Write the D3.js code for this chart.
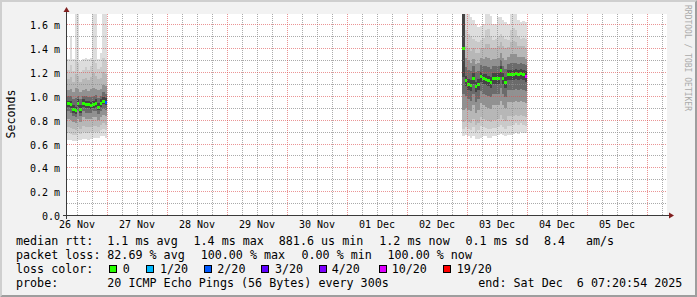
<!DOCTYPE html>
<html><head><meta charset="utf-8">
<script src="https://cdn.jsdelivr.net/npm/d3@7"></script>
<style>html,body{margin:0;padding:0;background:#f2f2f2;} svg{display:block;} text{white-space:pre;}</style>
</head><body>
<svg id="c" width="697" height="297"></svg>
<script>
// ---- time frame ----
const domainStart = "2025-11-26T08:00:00Z";
const domainEnd   = "2025-12-06T08:00:00Z";
const leftStart   = "2025-11-26T08:00:00Z";   // hourly steps
const rightStart  = "2025-12-02T22:00:00Z";

const dayLabels = ["26 Nov","27 Nov","28 Nov","29 Nov","30 Nov","01 Dec","02 Dec","03 Dec","04 Dec","05 Dec"];
const yTickValues = [0,0.2,0.4,0.6,0.8,1.0,1.2,1.4,1.6];
const yTickLabels = ["0.0","0.2 m","0.4 m","0.6 m","0.8 m","1.0 m","1.2 m","1.4 m","1.6 m"];

// ---- left block (ms), sorted-ping ranks ----
const leftMax = [1.31,1.50,1.31,1.80,1.80,1.29,1.31,1.32,1.31,1.32,1.80,1.80,1.31,1.36,1.80,1.80];
const leftP19 = [1.22,1.26,1.21,1.30,1.28,1.20,1.22,1.24,1.22,1.25,1.30,1.28,1.23,1.24,1.32,1.30];
const leftP18 = [1.14,1.16,1.12,1.18,1.17,1.12,1.14,1.15,1.13,1.16,1.19,1.17,1.14,1.15,1.20,1.18];
const leftP16 = [1.05,1.06,1.03,1.07,1.06,1.03,1.05,1.06,1.04,1.06,1.07,1.06,1.05,1.06,1.09,1.08];
const leftP14 = [1.00,1.00,0.97,0.98,1.00,0.97,1.00,1.00,0.99,0.99,1.00,1.01,0.98,1.00,1.03,1.02];
const leftP12 = [0.96,0.96,0.92,0.91,0.97,0.92,0.97,0.96,0.96,0.95,0.96,0.97,0.94,0.97,0.99,0.98];
const leftMed = [0.94,0.93,0.89,0.88,0.94,0.89,0.94,0.93,0.93,0.92,0.93,0.94,0.91,0.94,0.96,0.95];
const leftP9  = [0.91,0.90,0.86,0.85,0.91,0.86,0.91,0.90,0.90,0.89,0.90,0.91,0.88,0.91,0.93,0.92];
const leftP7  = [0.87,0.86,0.83,0.82,0.87,0.83,0.87,0.86,0.86,0.86,0.87,0.87,0.85,0.87,0.89,0.88];
const leftP5  = [0.81,0.80,0.78,0.77,0.81,0.78,0.82,0.81,0.81,0.81,0.82,0.82,0.80,0.82,0.84,0.83];
const leftP3  = [0.74,0.73,0.72,0.71,0.74,0.72,0.75,0.74,0.74,0.74,0.75,0.75,0.74,0.76,0.77,0.76];
const leftP2  = [0.69,0.68,0.67,0.67,0.69,0.68,0.70,0.69,0.69,0.70,0.70,0.70,0.70,0.71,0.72,0.71];
const leftMin = [0.63,0.63,0.62,0.62,0.63,0.63,0.64,0.64,0.63,0.64,0.65,0.65,0.65,0.66,0.66,0.65];
const leftLoss = [0,0,0,0,0,0,0,0,0,0,0,0,0,0,0,2];

// ---- right block (ms) ----
const rightMax = [1.80,1.80,1.80,1.66,1.64,1.60,1.58,1.59,1.60,1.80,1.80,1.67,1.60,1.60,1.66,1.66,1.64,1.62,1.60,1.80,1.80,1.80,1.64,1.62,1.63,1.62];
const rightP19 = [1.80,1.55,1.52,1.50,1.48,1.46,1.45,1.47,1.49,1.55,1.56,1.50,1.47,1.48,1.50,1.52,1.50,1.48,1.47,1.55,1.57,1.55,1.50,1.48,1.49,1.48];
const rightP18 = [1.80,1.42,1.40,1.38,1.40,1.36,1.36,1.40,1.40,1.44,1.44,1.40,1.40,1.40,1.42,1.45,1.42,1.40,1.41,1.45,1.46,1.45,1.42,1.42,1.42,1.40];
const rightP16 = [1.80,1.32,1.30,1.28,1.31,1.27,1.28,1.32,1.31,1.33,1.32,1.30,1.31,1.31,1.32,1.36,1.32,1.30,1.33,1.35,1.35,1.35,1.33,1.33,1.33,1.31];
const rightP14 = [1.80,1.24,1.22,1.21,1.25,1.20,1.21,1.26,1.25,1.25,1.24,1.23,1.25,1.25,1.25,1.30,1.25,1.23,1.27,1.28,1.28,1.28,1.27,1.28,1.27,1.26];
const rightP12 = [1.80,1.17,1.14,1.13,1.19,1.12,1.14,1.20,1.18,1.18,1.17,1.16,1.19,1.19,1.19,1.25,1.19,1.16,1.22,1.22,1.22,1.23,1.22,1.23,1.22,1.21];
const rightMed = [1.40,1.13,1.10,1.09,1.15,1.08,1.10,1.17,1.15,1.14,1.13,1.12,1.15,1.15,1.15,1.22,1.15,1.12,1.18,1.18,1.18,1.19,1.18,1.19,1.18,1.17];
const rightP9  = [1.16,1.08,1.05,1.04,1.10,1.03,1.05,1.12,1.10,1.09,1.08,1.07,1.10,1.10,1.10,1.16,1.10,1.07,1.13,1.13,1.13,1.14,1.13,1.14,1.13,1.12];
const rightP7  = [1.02,1.00,0.97,0.96,1.02,0.95,0.97,1.04,1.02,1.01,1.00,0.99,1.02,1.02,1.02,1.07,1.02,0.99,1.05,1.05,1.05,1.06,1.05,1.06,1.05,1.04];
const rightP5  = [0.88,0.90,0.88,0.87,0.92,0.86,0.88,0.94,0.92,0.91,0.90,0.89,0.92,0.92,0.92,0.96,0.92,0.90,0.95,0.95,0.95,0.96,0.95,0.96,0.95,0.94];
const rightP3  = [0.78,0.80,0.78,0.77,0.81,0.76,0.77,0.82,0.81,0.80,0.79,0.78,0.80,0.80,0.81,0.84,0.81,0.79,0.83,0.83,0.83,0.84,0.83,0.84,0.83,0.82];
const rightP2  = [0.72,0.74,0.72,0.71,0.74,0.70,0.71,0.75,0.74,0.73,0.72,0.72,0.73,0.73,0.74,0.76,0.74,0.72,0.75,0.75,0.76,0.77,0.76,0.77,0.76,0.75];
const rightMin = [0.66,0.67,0.66,0.65,0.66,0.64,0.64,0.65,0.66,0.66,0.65,0.65,0.66,0.66,0.67,0.68,0.67,0.66,0.67,0.67,0.68,0.69,0.68,0.70,0.69,0.69];
const rightLoss = [0,0,0,0,0,0,0,0,0,0,0,0,0,0,0,0,0,0,0,0,0,0,0,0,0,10];

// ---- loss legend ----
const lossLevels = [0,1,2,3,4,10,19];
const lossLabels = ["0","1/20","2/20","3/20","4/20","10/20","19/20"];
const lossColors = ["#26ff00","#00b8ff","#0059ff","#5e00ff","#7e00ff","#dd00ff","#ff0000"];

// ---- legend text ----
const rttTexts  = ["median rtt:","1.1 ms avg","1.4 ms max","881.6 us min","1.2 ms now","0.1 ms sd","8.4","am/s"];
const lossTexts = ["packet loss:","82.69 % avg","100.00 % max","0.00 % min","100.00 % now"];
const probeTexts = ["probe:","20 ICMP Echo Pings (56 Bytes) every 300s","end: Sat Dec  6 07:20:54 2025"];

// ================= drawing =================
const svg = d3.select("#c");
const W = 697, H = 297;
const X0 = 67, X1 = 667, YT = 14, YB = 215;
const FONT = "'DejaVu Sans Mono', monospace";

const x = d3.scaleUtc().domain([new Date(domainStart), new Date(domainEnd)]).range([X0, X1]);
const y = d3.scaleLinear().domain([0, 1.688]).range([YB, YT]);

// background + frame
svg.append("rect").attr("width", W).attr("height", H).attr("fill", "#f2f2f2");
svg.append("path").attr("d", `M0,${H}L2,${H-2}L2,2L${W-2},2L${W},0L0,0Z`).attr("fill", "#cfcfcf");
svg.append("path").attr("d", `M2,${H-2}L${W-2},${H-2}L${W-2},2L${W},0L${W},${H}L0,${H}Z`).attr("fill", "#9e9e9e");
svg.append("rect").attr("x", X0).attr("y", YT).attr("width", X1 - X0).attr("height", YB - YT).attr("fill", "#ffffff");

svg.append("defs").append("clipPath").attr("id", "plot")
  .append("rect").attr("x", X0).attr("y", YT).attr("width", X1 - X0).attr("height", YB - YT);

function buildRows(start, ranks, med, loss) {
  const t0 = new Date(start);
  return med.map((m, i) => {
    const r = { t: d3.utcHour.offset(t0, i), t1: d3.utcHour.offset(t0, i + 1), med: m, loss: loss[i] };
    ranks.forEach((arr, k) => r["b" + k] = arr[i]);
    return r;
  });
}
const leftRanks  = [leftMin, leftP2, leftP3, leftP5, leftP7, leftP9, leftP12, leftP14, leftP16, leftP18, leftP19, leftMax];
const rightRanks = [rightMin, rightP2, rightP3, rightP5, rightP7, rightP9, rightP12, rightP14, rightP16, rightP18, rightP19, rightMax];
const bandGrays = [221, 202, 183, 145, 107, 69];
const rows = buildRows(leftStart, leftRanks, leftMed, leftLoss)
  .concat(buildRows(rightStart, rightRanks, rightMed, rightLoss));

const gData = svg.append("g").attr("clip-path", "url(#plot)").attr("shape-rendering", "crispEdges");
bandGrays.forEach((g, k) => {
  const lo = "b" + k, hi = "b" + (11 - k);
  gData.append("g").attr("fill", d3.rgb(g, g, g).formatHex())
    .selectAll("rect").data(rows).join("rect")
    .attr("x", d => Math.round(x(d.t)))
    .attr("width", d => Math.round(x(d.t1)) - Math.round(x(d.t)))
    .attr("y", d => Math.round(y(d[hi])))
    .attr("height", d => Math.round(y(d[lo])) - Math.round(y(d[hi])));
});

function lossColor(l) {
  let c = lossColors[0];
  lossLevels.forEach((lv, i) => { if (l >= lv) c = lossColors[i]; });
  return c;
}
gData.append("g").selectAll("rect").data(rows).join("rect")
  .attr("x", d => Math.round(x(d.t)))
  .attr("width", d => Math.round(x(d.t1)) - Math.round(x(d.t)))
  .attr("y", d => Math.round(y(d.med)) - 1)
  .attr("height", 3)
  .attr("fill", d => lossColor(d.loss));

// grid (on top, dashed)
const gGrid = svg.append("g").attr("shape-rendering", "crispEdges").attr("stroke-width", 1).attr("stroke-dasharray", "1,1");
const minorY = d3.range(1, 17).map(i => i / 10).filter((v, i) => i % 2 === 0);
gGrid.selectAll(".hy").data(minorY).join("line")
  .attr("x1", X0).attr("x2", X1)
  .attr("y1", d => Math.round(y(d)) + 0.5).attr("y2", d => Math.round(y(d)) + 0.5)
  .attr("stroke", "rgba(143,143,143,0.75)");
const hours6 = d3.utcHour.every(6).range(new Date(domainStart), new Date(domainEnd)).filter(d => d.getUTCHours() !== 0);
gGrid.selectAll(".vx").data(hours6).join("line")
  .attr("x1", d => Math.round(x(d)) + 0.5).attr("x2", d => Math.round(x(d)) + 0.5)
  .attr("y1", YT).attr("y2", YB)
  .attr("stroke", "rgba(143,143,143,0.75)");
gGrid.selectAll(".my").data(yTickValues.slice(1)).join("line")
  .attr("x1", X0).attr("x2", X1)
  .attr("y1", d => Math.round(y(d)) + 0.5).attr("y2", d => Math.round(y(d)) + 0.5)
  .attr("stroke", "rgba(222,79,79,0.6)");
const midnights = d3.utcDay.range(new Date(domainStart), new Date(domainEnd));
gGrid.selectAll(".mx").data(midnights).join("line")
  .attr("x1", d => Math.round(x(d)) + 0.5).attr("x2", d => Math.round(x(d)) + 0.5)
  .attr("y1", YT).attr("y2", YB)
  .attr("stroke", "rgba(222,79,79,0.6)");

// axes
const gAx = svg.append("g").attr("shape-rendering", "crispEdges");
gAx.append("line").attr("x1", X0 - 4).attr("x2", X1 + 4).attr("y1", YB + 0.5).attr("y2", YB + 0.5).attr("stroke", "#3a3a3a");
gAx.append("line").attr("x1", X0 - 0.5).attr("x2", X0 - 0.5).attr("y1", YB + 4).attr("y2", YT - 4).attr("stroke", "#3a3a3a");
svg.append("path").attr("d", `M${X1 + 2},${YB - 2.5}L${X1 + 2},${YB + 3.5}L${X1 + 7},${YB + 0.5}Z`).attr("fill", "#801f1f");
svg.append("path").attr("d", `M${X0 - 3.5},${YT - 2}L${X0 + 2.5},${YT - 2}L${X0 - 0.5},${YT - 7}Z`).attr("fill", "#801f1f");

// y tick labels
svg.append("g").attr("font-family", FONT).attr("font-size", 10).attr("text-anchor", "end")
  .selectAll("text").data(yTickValues).join("text")
  .attr("x", 60).attr("y", d => Math.round(y(d)) + 4.5)
  .text((d, i) => yTickLabels[i]);

// x tick labels (centered at noon of each day)
const labelDays = d3.utcDay.range(d3.utcDay.floor(new Date(domainStart)), new Date(domainEnd)).slice(0, dayLabels.length);
svg.append("g").attr("font-family", FONT).attr("font-size", 10).attr("text-anchor", "middle")
  .selectAll("text").data(labelDays).join("text")
  .attr("x", d => x(d3.utcHour.offset(d, 12)))
  .attr("y", 227.5)
  .text((d, i) => dayLabels[i]);

// y title
svg.append("text").attr("font-family", FONT).attr("font-size", 11.6)
  .attr("text-anchor", "middle").attr("transform", "translate(14.5,114) rotate(-90)").text("Seconds");

// watermark
svg.append("text").attr("font-family", FONT).attr("font-size", 8).attr("fill", "#aaaaaa")
  .attr("transform", "translate(685,5) rotate(90)").text("RRDTOOL / TOBI OETIKER");

// legend
const leg = svg.append("g").attr("font-family", FONT).attr("font-size", 11.7).attr("fill", "#000");
const rttX = [16, 107.3, 193.5, 278.8, 379.3, 465.5, 544, 586];
rttTexts.forEach((t, i) => leg.append("text").attr("x", rttX[i]).attr("y", 245).text(t));
const lossX = [16, 107.3, 200.7, 301.5, 387.5];
lossTexts.forEach((t, i) => leg.append("text").attr("x", lossX[i]).attr("y", 259).text(t));
leg.append("text").attr("x", 16).attr("y", 273).text("loss color:");
const boxX = [108.5, 146, 203.5, 260.5, 318.5, 378.5, 442.5];
const boxLblX = [122.7, 160, 217.3, 275, 331.7, 391.7, 456.7];
lossColors.forEach((c, i) => {
  leg.append("rect").attr("x", Math.round(boxX[i]) + 0.5).attr("y", 265.5).attr("width", 7).attr("height", 7)
    .attr("fill", c).attr("stroke", "#000").attr("stroke-width", 1);
  leg.append("text").attr("x", boxLblX[i]).attr("y", 273).text(lossLabels[i]);
});
const probeX = [16, 107.3, 478.3];
probeTexts.forEach((t, i) => leg.append("text").attr("x", probeX[i]).attr("y", 287).text(t));
</script>
</body></html>
